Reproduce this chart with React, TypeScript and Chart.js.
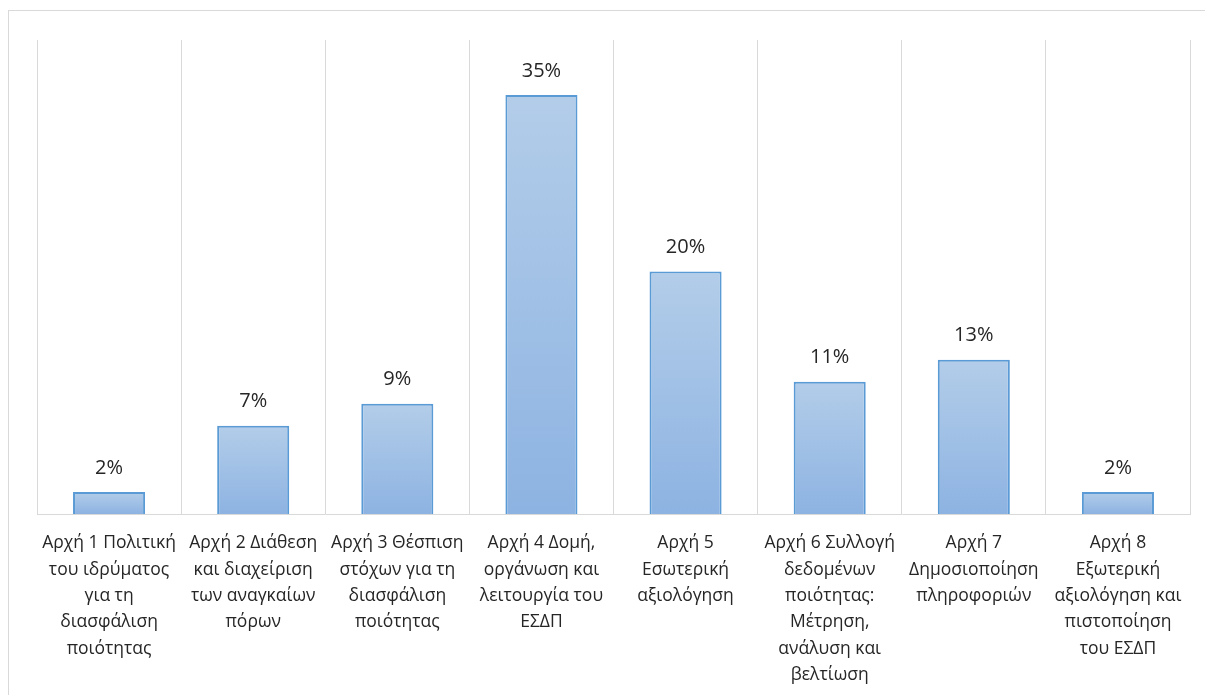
import React, { useEffect, useRef } from "react";
import { Chart, registerables } from "chart.js";

Chart.register(...registerables);

const categories: string[][] = [
  ["Αρχή 1 Πολιτική", "του ιδρύματος", "για τη", "διασφάλιση", "ποιότητας"],
  ["Αρχή 2 Διάθεση", "και διαχείριση", "των αναγκαίων", "πόρων"],
  ["Αρχή 3 Θέσπιση", "στόχων για τη", "διασφάλιση", "ποιότητας"],
  ["Αρχή 4 Δομή,", "οργάνωση και", "λειτουργία του", "ΕΣΔΠ"],
  ["Αρχή 5", "Εσωτερική", "αξιολόγηση"],
  ["Αρχή 6 Συλλογή", "δεδομένων", "ποιότητας:", "Μέτρηση,", "ανάλυση και", "βελτίωση"],
  ["Αρχή 7", "Δημοσιοποίηση", "πληροφοριών"],
  ["Αρχή 8", "Εξωτερική", "αξιολόγηση και", "πιστοποίηση", "του ΕΣΔΠ"],
];

const values: number[] = [1.85, 7.41, 9.26, 35.19, 20.37, 11.11, 12.96, 1.85];
const valueLabels: string[] = ["2%", "7%", "9%", "35%", "20%", "11%", "13%", "2%"];
const yMin = 0;
const yMax = 39.8;

const FONT = "'Open Sans', 'Noto Sans', sans-serif";

const dataLabelPlugin = {
  id: "dataLabels",
  afterDatasetsDraw(chart: any) {
    const ctx = chart.ctx;
    const meta = chart.getDatasetMeta(0);
    ctx.save();
    ctx.font = `20px ${FONT}`;
    ctx.fillStyle = "#262626";
    ctx.textAlign = "center";
    ctx.textBaseline = "middle";
    meta.data.forEach((bar: any, i: number) => {
      ctx.fillText(valueLabels[i], bar.x, bar.y - 24);
    });
    ctx.restore();
  },
};

export default function App() {
  const ref = useRef<HTMLCanvasElement | null>(null);

  useEffect(() => {
    if (!ref.current) return;
    const chart = new Chart(ref.current, {
      type: "bar",
      data: {
        labels: categories,
        datasets: [
          {
            data: values,
            backgroundColor: (c: any) => {
              const ch = c.chart;
              const ys = ch.scales && ch.scales.y;
              if (!ys || c.type !== "data") return "#9fbfe5";
              const top = ys.getPixelForValue(c.raw);
              const bot = ys.getPixelForValue(0);
              if (!isFinite(top) || !isFinite(bot) || top === bot) return "#9fbfe5";
              const g = ch.ctx.createLinearGradient(0, top, 0, bot);
              g.addColorStop(0, "#b3cde9");
              g.addColorStop(1, "#8db3e2");
              return g;
            },
            borderColor: "#5b9bd5",
            borderWidth: 2,
            barPercentage: 0.5,
            categoryPercentage: 1,
          },
        ],
      },
      options: {
        responsive: false,
        animation: false,
        layout: { padding: { left: 28, right: 22, top: 29, bottom: 0 } },
        plugins: {
          legend: { display: false },
          tooltip: { enabled: false },
        },
        scales: {
          x: {
            grid: { offset: true, color: "#d9d9d9", lineWidth: 1, drawTicks: false },
            border: { display: true, color: "#d9d9d9", width: 1 },
            ticks: {
              color: "#262626",
              font: { family: FONT, size: 17.5, lineHeight: 1.51 },
              padding: 16,
              maxRotation: 0,
              minRotation: 0,
              autoSkip: false,
            },
            afterFit: (scale: any) => {
              scale.height = 187;
            },
          },
          y: {
            display: false,
            min: yMin,
            max: yMax,
          },
        },
      },
      plugins: [dataLabelPlugin],
    });
    return () => chart.destroy();
  }, []);

  return (
    <div
      style={{
        marginTop: 2,
        width: 1205,
        height: 700,
        border: "1px solid #d9d9d9",
        boxSizing: "border-box",
        overflow: "hidden",
        background: "#fff",
      }}
    >
      <canvas ref={ref} width={1203} height={690} style={{ display: "block" }} />
    </div>
  );
}
